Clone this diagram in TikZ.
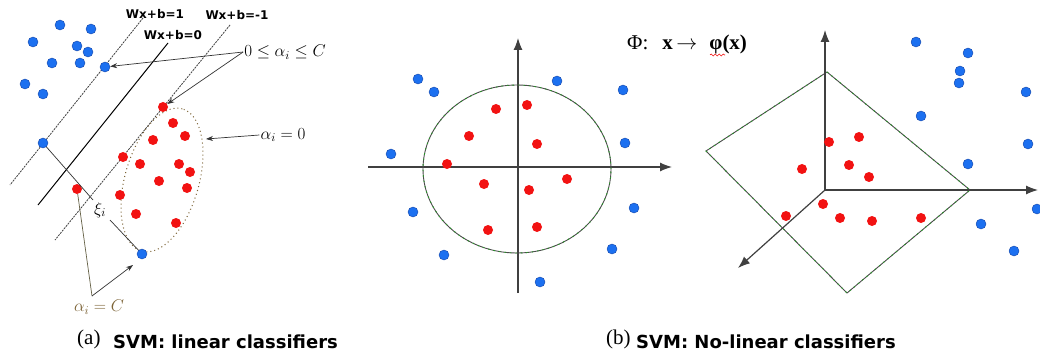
\RequirePackage{fix-cm}
\documentclass[tikz,border=0pt]{standalone}
\usepackage{fontspec}
\newfontfamily\dejafont{DejaVu Sans}
\newfontfamily\timesfont{Liberation Serif}
\usetikzlibrary{arrows.meta,decorations.pathmorphing}
\definecolor{ptblue}{RGB}{28,112,240}
\definecolor{ptblueedge}{RGB}{20,70,170}
\definecolor{ptred}{RGB}{242,18,18}
\definecolor{sepgreen}{RGB}{40,150,40}
\definecolor{labbrown}{RGB}{125,100,55}
\tikzset{
  bdot/.style={circle,fill=ptblue,draw=ptblueedge,line width=0.4pt,inner sep=0pt,minimum size=10pt},
  rdot/.style={circle,fill=ptred,inner sep=0pt,minimum size=10pt},
  margin/.style={draw=black!75,line width=0.8pt,dash pattern=on 2pt off 1pt},
  hyper/.style={draw=black,line width=1pt},
  guide/.style={draw=black!80,line width=0.7pt},
  pointer/.style={guide,-{Stealth[length=7pt,width=5pt]}},
  axisline/.style={draw=black!75,line width=1.2pt,-{Latex[length=12pt,width=9pt]}},
  sepline/.style={draw=black!70,line width=0.9pt,
                  postaction={draw=sepgreen,line width=0.9pt,dash pattern=on 1.5pt off 4pt}},
  eqlab/.style={font=\dejafont\bfseries\fontsize{12}{13}\selectfont,inner sep=1pt},
  caplab/.style={font=\dejafont\bfseries\fontsize{18}{20}\selectfont,inner sep=0pt,anchor=base west},
  partlab/.style={font=\timesfont\fontsize{21}{23}\selectfont,inner sep=0pt,anchor=base west},
  mathlab/.style={font=\fontsize{17}{19}\selectfont,inner sep=1pt}
}
\begin{document}
\begin{tikzpicture}[x=1pt,y=-1pt]
  \useasboundingbox[fill=white] (0,0) rectangle (1040,358);

  % (a) linear classifier
  \draw[margin] (143,18) -- (10,185);
  \draw[hyper] (168,43) -- (38,205);
  \draw[margin] (230,25) -- (55,240);
  \draw[draw=labbrown,line width=1pt,dash pattern=on 1pt off 3pt,rotate around={74:(162,180)}]
    (162,180) ellipse [x radius=74pt,y radius=37pt];

  \foreach \p [count=\i] in {(60,25),(91,29),(33,42),(77,46),(88,52),(52,63),(80,63),(25,84),(43,94)}
    \node[bdot] (lb\i) at \p {};
  \node[bdot] (lbsv) at (105,67) {};
  \node[bdot] (lbxi) at (43,143) {};
  \node[bdot] (lbin) at (142,254) {};
  \foreach \p [count=\i] in {(173,123),(153,140),(185,136),(140,164),(179,164),(190,172),
                             (159,181),(120,195),(187,188),(136,214),(176,223)}
    \node[rdot] (lr\i) at \p {};
  \node[rdot] (lrsv) at (163,107) {};
  \node[rdot] (lrsv2) at (123,157) {};
  \node[rdot] (lrmis) at (77,189) {};

  \node[eqlab] (wone) at (155,14) {Wx+b=1};
  \node[eqlab] (wzero) at (173,35) {Wx+b=0};
  \node[eqlab] (wmone) at (237,15) {Wx+b=-1};

  \node[mathlab] (abound) at (285,52) {$0\leq\alpha_i\leq C$};
  \draw[pointer] (abound.west) -- (lbsv);
  \draw[pointer] (abound.west) -- (lrsv);

  \node[mathlab] (azero) at (283,135) {$\alpha_i=0$};
  \coordinate (ellhit) at (206,139);
  \draw[pointer] (azero.west) -- (ellhit);

  \node[mathlab] (xi) at (100,210) {$\xi_i$};
  \coordinate (xitop) at (93,200);
  \coordinate (xibot) at (110,220);
  \draw[guide] (lbxi) -- (xitop);
  \draw[guide] (lbin) -- (xibot);

  \node[mathlab,text=labbrown] (aC) at (99,307) {$\alpha_i=C$};
  \coordinate (apex) at (92,296);
  \coordinate (chit) at (133,265);
  \draw[guide,draw=black!70!yellow] (apex) -- (lrmis);
  \draw[pointer] (apex) -- (chit);

  \node[partlab] (capa) at (77,344) {(a)};
  \node[caplab] (capatext) at (113,348) {SVM: linear classifiers};

  % (b) non-linear classifier, input space
  \draw[axisline] (518,293) -- (518,38);
  \draw[axisline] (368,167) -- (672,167);
  \draw[sepline] (517,169) ellipse [x radius=94pt,y radius=84pt];
  \foreach \p [count=\i] in {(418,79),(434,92),(557,81),(623,90),(625,143),(391,154),
                             (413,212),(634,208),(444,255),(612,249),(540,282)}
    \node[bdot] (mb\i) at \p {};
  \foreach \p [count=\i] in {(496,109),(527,105),(469,136),(537,144),(447,164),
                             (484,184),(529,190),(567,179),(488,230),(537,227)}
    \node[rdot] (mr\i) at \p {};

  \node[partlab] (phimap) at (627,50)
    {Φ:\hspace{14pt}\textbf{x}\,$\rightarrow$\hspace{12pt}\textbf{φ(x)}};
  \draw[ptred,line width=0.6pt,decorate,decoration={snake,amplitude=1pt,segment length=4pt}]
    (710,55) -- (725,55);

  % (b) feature space
  \coordinate (fO) at (825,190);
  \draw[sepline] (827,72) -- (970,190) -- (847,293) -- (706,151) -- cycle;
  \draw[axisline] (fO) -- (825,30);
  \draw[axisline] (fO) -- (1038,190);
  \draw[axisline] (fO) -- (738,268);
  \foreach \p [count=\i] in {(829,142),(859,137),(802,169),(849,165),(869,177),
                             (823,204),(786,216),(840,218),(872,221),(921,218)}
    \node[rdot] (fr\i) at \p {};
  \foreach \p [count=\i] in {(916,42),(968,53),(960,71),(959,83),(1026,92),(921,116),
                             (1028,144),(968,164),(1037,209),(981,224),(1014,251)}
    \node[bdot] (fb\i) at \p {};

  \node[partlab] (capb) at (606,344) {(b)};
  \node[caplab] (capbtext) at (636,348) {SVM: No-linear classifiers};
\end{tikzpicture}
\end{document}
